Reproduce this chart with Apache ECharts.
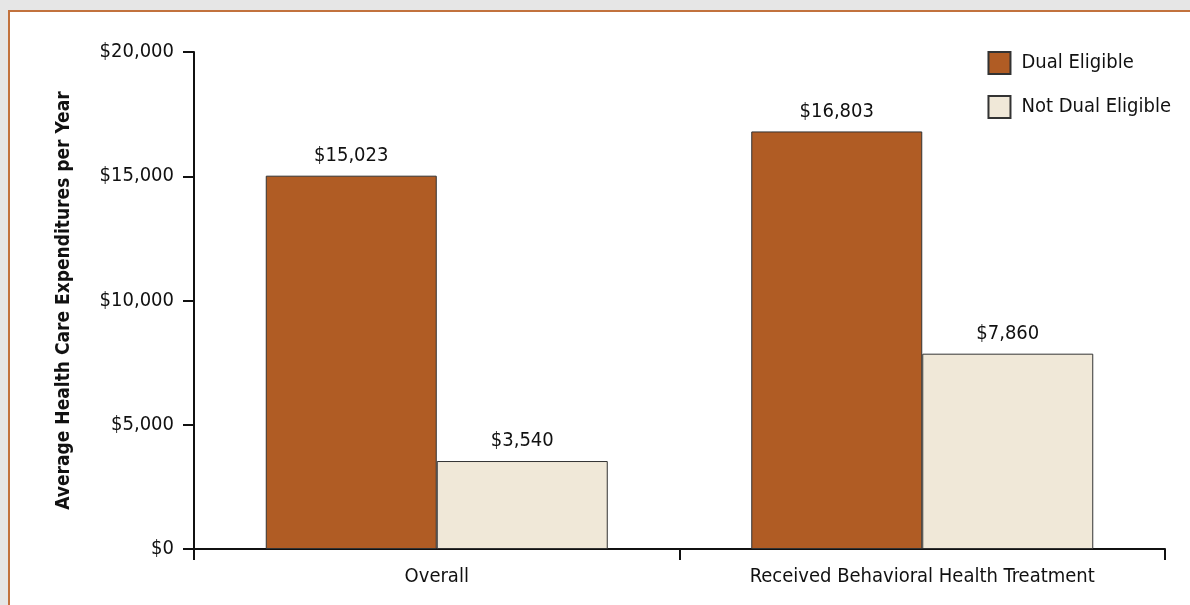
<!DOCTYPE html>
<html><head><meta charset="utf-8">
<script src="https://cdn.jsdelivr.net/npm/echarts@6/dist/echarts.min.js"></script>
<style>
html,body{margin:0;padding:0;background:#e6e6e6;width:1190px;height:605px;overflow:hidden;}
#panel{position:absolute;left:8px;top:10px;width:1200px;height:620px;background:#fff;border:2px solid #c2723d;box-sizing:border-box;}
#chart{position:absolute;left:0;top:0;width:1190px;height:605px;}
</style></head>
<body><div id="panel"></div><div id="chart"></div>
<script>
const categories = ['Overall', 'Received Behavioral Health Treatment'];
const dualEligible = [15023, 16803];
const notDualEligible = [3540, 7860];
const yTicks = [0, 5000, 10000, 15000, 20000];
const FONT = '"Liberation Sans Narrow", "DejaVu Sans Condensed", "Liberation Sans", sans-serif';
const fmt = v => '$' + v.toLocaleString('en-US');
const chart = echarts.init(document.getElementById('chart'), null, {renderer:'canvas'});
chart.setOption({
  backgroundColor: 'transparent',
  animation: false,
  grid: {left: 194, right: 25, top: 52, bottom: 56},
  legend: {
    right: 14, top: 46, orient: 'vertical', itemWidth: 22, itemHeight: 22, itemGap: 20,
    icon: 'rect',
    textStyle: {fontFamily: FONT, fontSize: 20, color: '#111', padding: [0,0,0,6]},
    data: ['Dual Eligible', 'Not Dual Eligible']
  },
  xAxis: {
    type: 'category', data: categories, boundaryGap: true,
    axisLine: {lineStyle: {color: '#111', width: 2}},
    axisTick: {show: true, length: 11, inside: false, lineStyle: {color: '#111', width: 2}},
    axisLabel: {fontFamily: FONT, fontSize: 20, color: '#111', margin: 18}
  },
  yAxis: {
    type: 'value', min: 0, max: 20000, interval: 5000,
    name: 'Average Health Care Expenditures per Year', nameLocation: 'middle', nameGap: 120,
    nameTextStyle: {fontFamily: FONT, fontSize: 19, fontWeight: 'bold', color: '#111'},
    axisLine: {show: true, lineStyle: {color: '#111', width: 2}},
    axisTick: {show: true, length: 11, lineStyle: {color: '#111', width: 2}},
    splitLine: {show: false},
    axisLabel: {fontFamily: FONT, fontSize: 20, color: '#111', margin: 20, formatter: v => fmt(v)}
  },
  series: [
    {name: 'Dual Eligible', type: 'bar', data: dualEligible, barWidth: 171, barGap: '0%',
     itemStyle: {color: '#b05c24', borderColor: '#333', borderWidth: 1},
     label: {show: true, position: 'top', distance: 10, fontFamily: FONT, fontSize: 20, color: '#111', formatter: p => fmt(p.value)}},
    {name: 'Not Dual Eligible', type: 'bar', data: notDualEligible, barWidth: 171, barGap: '0%',
     itemStyle: {color: '#f0e8d8', borderColor: '#333', borderWidth: 1},
     label: {show: true, position: 'top', distance: 10, fontFamily: FONT, fontSize: 20, color: '#111', formatter: p => fmt(p.value)}}
  ]
});
</script></body></html>
